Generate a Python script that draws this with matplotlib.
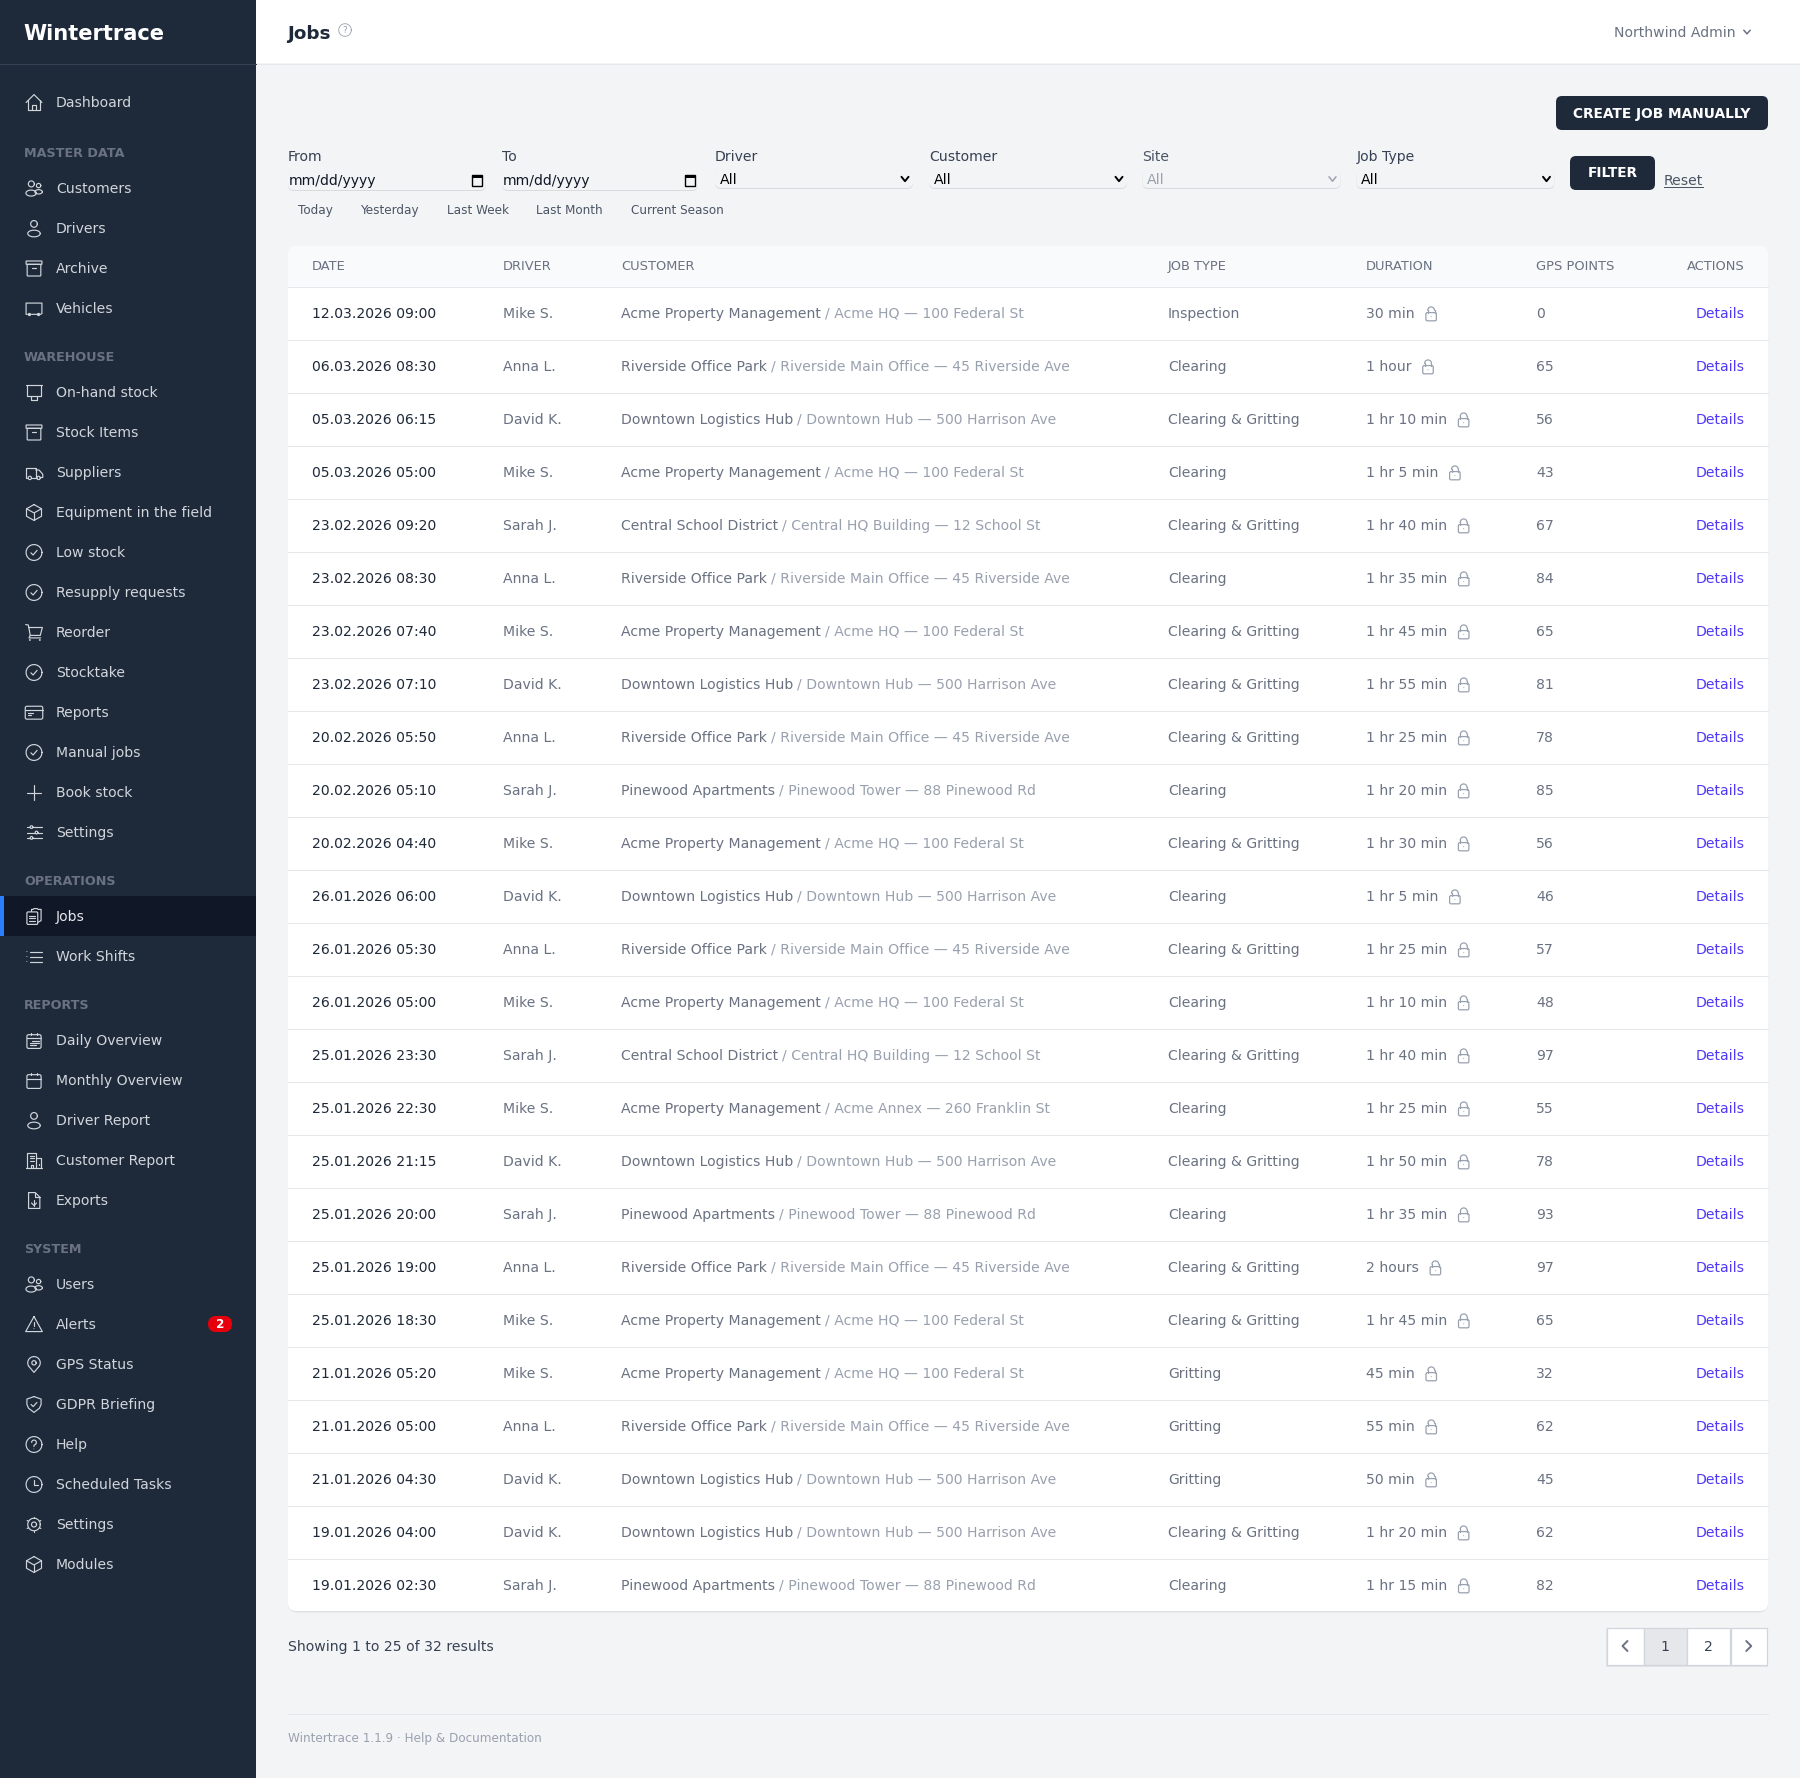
# _*_ coding: UTF-8 _*_

import numpy as np
import matplotlib
matplotlib.use('Agg')
import matplotlib.pyplot as plt
from matplotlib.patches import FancyBboxPatch, Rectangle

# 表格数据
dates = ['12.03.2026 09:00', '06.03.2026 08:30', '05.03.2026 06:15', '05.03.2026 05:00', '23.02.2026 09:20',
         '23.02.2026 08:30', '23.02.2026 07:40', '23.02.2026 07:10', '20.02.2026 05:50', '20.02.2026 05:10',
         '20.02.2026 04:40', '26.01.2026 06:00', '26.01.2026 05:30', '26.01.2026 05:00', '25.01.2026 23:30',
         '25.01.2026 22:30', '25.01.2026 21:15', '25.01.2026 20:00', '25.01.2026 19:00', '25.01.2026 18:30',
         '21.01.2026 05:20', '21.01.2026 05:00', '21.01.2026 04:30', '19.01.2026 04:00', '19.01.2026 02:30']
drivers = ['Mike S.', 'Anna L.', 'David K.', 'Mike S.', 'Sarah J.',
           'Anna L.', 'Mike S.', 'David K.', 'Anna L.', 'Sarah J.',
           'Mike S.', 'David K.', 'Anna L.', 'Mike S.', 'Sarah J.',
           'Mike S.', 'David K.', 'Sarah J.', 'Anna L.', 'Mike S.',
           'Mike S.', 'Anna L.', 'David K.', 'David K.', 'Sarah J.']
acme = 'Acme Property Management'
river = 'Riverside Office Park'
down = 'Downtown Logistics Hub'
school = 'Central School District'
pine = 'Pinewood Apartments'
customers = [acme, river, down, acme, school,
             river, acme, down, river, pine,
             acme, down, river, acme, school,
             acme, down, pine, river, acme,
             acme, river, down, down, pine]
site_hq = 'Acme HQ — 100 Federal St'
site_river = 'Riverside Main Office — 45 Riverside Ave'
site_down = 'Downtown Hub — 500 Harrison Ave'
site_school = 'Central HQ Building — 12 School St'
site_pine = 'Pinewood Tower — 88 Pinewood Rd'
sites = [site_hq, site_river, site_down, site_hq, site_school,
         site_river, site_hq, site_down, site_river, site_pine,
         site_hq, site_down, site_river, site_hq, site_school,
         'Acme Annex — 260 Franklin St', site_down, site_pine, site_river, site_hq,
         site_hq, site_river, site_down, site_down, site_pine]
cg = 'Clearing & Gritting'
job_types = ['Inspection', 'Clearing', cg, 'Clearing', cg,
             'Clearing', cg, cg, cg, 'Clearing',
             cg, 'Clearing', cg, 'Clearing', cg,
             'Clearing', cg, 'Clearing', cg, cg,
             'Gritting', 'Gritting', 'Gritting', cg, 'Clearing']
durations = ['30 min', '1 hour', '1 hr 10 min', '1 hr 5 min', '1 hr 40 min',
             '1 hr 35 min', '1 hr 45 min', '1 hr 55 min', '1 hr 25 min', '1 hr 20 min',
             '1 hr 30 min', '1 hr 5 min', '1 hr 25 min', '1 hr 10 min', '1 hr 40 min',
             '1 hr 25 min', '1 hr 50 min', '1 hr 35 min', '2 hours', '1 hr 45 min',
             '45 min', '55 min', '50 min', '1 hr 20 min', '1 hr 15 min']
gps_points = [0, 65, 56, 43, 67, 84, 65, 81, 78, 85, 56, 46, 57, 48, 97, 55, 78, 93, 97, 65, 32, 62, 45, 62, 82]

column_titles = ['DATE', 'DRIVER', 'CUSTOMER', 'JOB TYPE', 'DURATION', 'GPS POINTS']
column_x = [312, 503, 621, 1168, 1366, 1536]

# 侧边栏 (名称, 图标, y)
nav_items = [('Dashboard', 'home', 102), ('Customers', 'users', 188), ('Drivers', 'user', 228),
             ('Archive', 'archive', 268), ('Vehicles', 'vehicle', 308), ('On-hand stock', 'tray', 392),
             ('Stock Items', 'archive', 432), ('Suppliers', 'truck', 472), ('Equipment in the field', 'cube', 512),
             ('Low stock', 'check', 552), ('Resupply requests', 'check', 592), ('Reorder', 'cart', 632),
             ('Stocktake', 'check', 672), ('Reports', 'card', 712), ('Manual jobs', 'check', 752),
             ('Book stock', 'plus', 792), ('Settings', 'sliders', 832), ('Jobs', 'jobs', 916),
             ('Work Shifts', 'list', 956), ('Daily Overview', 'daily', 1040), ('Monthly Overview', 'calendar', 1080),
             ('Driver Report', 'user', 1120), ('Customer Report', 'building', 1160), ('Exports', 'export', 1200),
             ('Users', 'users', 1284), ('Alerts', 'alert', 1324), ('GPS Status', 'pin', 1364),
             ('GDPR Briefing', 'shield', 1404), ('Help', 'help', 1444), ('Scheduled Tasks', 'clock', 1484),
             ('Settings', 'gear', 1524), ('Modules', 'cube', 1564)]
nav_sections = [('MASTER DATA', 152.5), ('WAREHOUSE', 356.5), ('OPERATIONS', 880.5), ('REPORTS', 1004.5), ('SYSTEM', 1248.5)]

filter_labels = ['From', 'To', 'Driver', 'Customer', 'Site', 'Job Type']
filter_x = [288, 502, 715, 929, 1142, 1357]
quick_links = ['Today', 'Yesterday', 'Last Week', 'Last Month', 'Current Season']
quick_x = [298, 360.5, 447, 536.5, 631]

# 颜色
GRAY900 = '#101828'
GRAY800 = '#1e2939'
GRAY700 = '#364153'
GRAY600 = '#4a5565'
GRAY500 = '#6a7282'
GRAY400 = '#99a1af'
GRAY300 = '#d1d5dc'
GRAY200 = '#e5e7eb'
GRAY100 = '#f3f4f6'
GRAY50 = '#f9fafb'
INDIGO = '#4f39f6'

# 图标, 24格坐标
CIRCLE_CHECK = [('C', 12, 12, 9.5), ('L', [(8.3, 12.4), (10.9, 15), (15.7, 9.4)])]
ICONS = {
    'home': [('L', [(2.5, 12), (12, 2.5), (21.5, 12)]), ('L', [(5, 9.5), (5, 21.5), (19, 21.5), (19, 9.5)]),
             ('L', [(10, 21.5), (10, 15.5), (14, 15.5), (14, 21.5)])],
    'users': [('C', 8.8, 6.5, 3.6), ('C', 17.5, 8.5, 2.6), ('E', 8.5, 17.5, 6.2, 3.6), ('E', 17.5, 16, 4.5, 2.6)],
    'user': [('C', 12, 6.5, 4), ('E', 12, 18, 7.5, 4)],
    'archive': [('R', 2.5, 3, 19, 4, 0.5), ('R', 3.8, 7, 16.4, 14, 1), ('L', [(10, 11.5), (14, 11.5)])],
    'vehicle': [('L', [(4, 19), (2.5, 19), (2.5, 5.5), (21.5, 5.5), (21.5, 18), (20, 19), (9, 19)]),
                ('D', 6.5, 19.2, 2), ('D', 17.5, 19.2, 2)],
    'tray': [('L', [(2.5, 2.5), (21.5, 2.5)]), ('L', [(4, 2.5), (4, 16), (20, 16), (20, 2.5)]),
             ('L', [(8, 16), (8, 21), (16, 21), (16, 16)])],
    'truck': [('L', [(4, 18), (2, 18), (2, 6), (14, 6), (14, 18), (10, 18)]),
              ('L', [(14, 9), (18, 9), (22.5, 14), (22.5, 18), (20, 18)]), ('L', [(14, 18), (15, 18)]),
              ('C', 7, 18.5, 2), ('C', 17.5, 18.5, 2)],
    'cube': [('L', [(12, 2.5), (21, 7.5), (21, 16.5), (12, 21.5), (3, 16.5), (3, 7.5), (12, 2.5)]),
             ('L', [(3, 7.5), (12, 12.5), (21, 7.5)]), ('L', [(12, 12.5), (12, 21.5)])],
    'check': CIRCLE_CHECK,
    'cart': [('L', [(2, 2.5), (5.2, 3), (7.5, 15.5), (19.5, 15.5), (22, 6), (5.7, 6)]),
             ('L', [(7.5, 15.5), (6, 18.5), (20, 18.5)]), ('D', 7, 21, 1.1), ('D', 19, 21, 1.1)],
    'card': [('R', 1.5, 4.5, 21, 15.5, 2), ('L', [(1.5, 8.5), (22.5, 8.5)]), ('L', [(5, 13), (11, 13)]),
             ('L', [(5, 15.5), (8, 15.5)])],
    'plus': [('L', [(12, 3.5), (12, 20.5)]), ('L', [(3.5, 12), (20.5, 12)])],
    'sliders': [('L', [(3, 5.5), (21, 5.5)]), ('L', [(3, 12), (21, 12)]), ('L', [(3, 18.5), (21, 18.5)]),
                ('F', 9, 5.5, 1.6), ('F', 15, 12, 1.6), ('F', 9, 18.5, 1.6)],
    'jobs': [('L', [(9, 6), (9, 3.5), (11, 3.5), (12, 2.5), (16, 2.5), (17, 3.5), (20.5, 3.5), (20.5, 17), (16.5, 19)]),
             ('R', 3.5, 6.5, 13, 15, 1.5), ('L', [(6.5, 11), (13.5, 11)]), ('L', [(6.5, 14), (13.5, 14)]),
             ('L', [(6.5, 17), (13.5, 17)])],
    'list': [('D', 3.5, 6, 0.6), ('D', 3.5, 12, 0.6), ('D', 3.5, 18, 0.6), ('L', [(7.5, 6), (21, 6)]),
             ('L', [(7.5, 12), (21, 12)]), ('L', [(7.5, 18), (21, 18)])],
    'calendar': [('R', 3.5, 5, 17, 16.5, 2), ('L', [(3.5, 10), (20.5, 10)]), ('L', [(8, 2.5), (8, 5)]),
                 ('L', [(16, 2.5), (16, 5)])],
    'daily': [('R', 3.5, 5, 17, 16.5, 2), ('L', [(3.5, 9), (20.5, 9)]), ('L', [(8, 2.5), (8, 5)]),
              ('L', [(16, 2.5), (16, 5)]), ('L', [(10, 12.5), (17.5, 12.5)]), ('L', [(7.5, 15), (17.5, 15)]),
              ('L', [(7.5, 17.5), (14, 17.5)])],
    'building': [('L', [(4, 21.5), (4, 2.5), (14.5, 2.5), (14.5, 21.5)]), ('L', [(14.5, 8.5), (20, 8.5), (20, 21.5)]),
                 ('L', [(2.5, 21.5), (22, 21.5)]), ('L', [(7, 6), (12, 6)]), ('L', [(7, 9.5), (12, 9.5)]),
                 ('L', [(7, 13), (12, 13)]), ('L', [(8, 21.5), (8, 17), (11, 17), (11, 21.5)]),
                 ('L', [(17.5, 12), (17.5, 13)]), ('L', [(17.5, 16), (17.5, 17)])],
    'export': [('L', [(5.5, 2.5), (13.5, 2.5), (19, 8), (19, 21.5), (5.5, 21.5), (5.5, 2.5)]),
               ('L', [(13.5, 2.5), (13.5, 8), (19, 8)]), ('L', [(12, 11), (12, 18)]), ('L', [(9, 15), (12, 18), (15, 15)])],
    'alert': [('L', [(12, 2.5), (22, 20.5), (2, 20.5), (12, 2.5)]), ('L', [(12, 8.5), (12, 14)]), ('D', 12, 17, 0.6)],
    'pin': [('A', 12, 10, 7.5, 7.5, 150, 390), ('L', [(5.5, 13.8), (12, 21.5), (18.5, 13.8)]), ('C', 12, 10, 2.6)],
    'shield': [('L', [(12, 2.5), (20.5, 5.5), (20.5, 12), (18.5, 16.5), (12, 21.5), (5.5, 16.5), (3.5, 12), (3.5, 5.5), (12, 2.5)]),
               ('L', [(8.5, 12), (11, 14.5), (15.5, 9.5)])],
    'help': [('C', 12, 12, 9.5), ('A', 12, 9.5, 2.8, 2.8, 180, 400), ('L', [(14.2, 11.4), (12, 13), (12, 14.5)]), ('D', 12, 17.3, 0.5)],
    'clock': [('C', 12, 12, 9.5), ('L', [(12, 6.5), (12, 12), (16.5, 12)])],
    'gear': [('C', 12, 12, 3), ('C', 12, 12, 7.5), ('L', [(12, 2.5), (12, 4.5)]), ('L', [(12, 19.5), (12, 21.5)]),
             ('L', [(3.8, 7.2), (5.5, 8.2)]), ('L', [(20.2, 7.2), (18.5, 8.2)]), ('L', [(3.8, 16.8), (5.5, 15.8)]),
             ('L', [(20.2, 16.8), (18.5, 15.8)])],
    'lock': [('R', 5, 10.5, 14, 11, 2), ('A', 12, 7.5, 4.5, 4.5, 180, 360), ('L', [(7.5, 7.5), (7.5, 10.5)]),
             ('L', [(16.5, 7.5), (16.5, 10.5)]), ('D', 12, 16, 0.7)],
}

fig = plt.figure(figsize=(18, 17.78), dpi=100)
ax = fig.add_axes([0, 0, 1, 1])
ax.set_xlim(0, 1800)
ax.set_ylim(1778, 0)
ax.axis('off')
renderer = fig.canvas.get_renderer()


def px(size):
    # css像素转pt
    return size * 0.72


def txt(x, y, s, size=14, color=GRAY500, weight='normal', ha='left', z=5):
    # y为文字视觉中心
    return ax.text(x, y + size * 0.36, s, fontsize=px(size), color=color, fontweight=weight,
                   ha=ha, va='baseline', zorder=z, family='DejaVu Sans')


def box(x0, y0, x1, y1, color, rounding=0, ec='none', lw=0, z=2):
    if rounding > 0:
        p = FancyBboxPatch((x0, y0), x1 - x0, y1 - y0, boxstyle='round,pad=0,rounding_size=%s' % rounding,
                           fc=color, ec=ec, lw=lw, zorder=z)
    else:
        p = Rectangle((x0, y0), x1 - x0, y1 - y0, fc=color, ec=ec, lw=lw, zorder=z)
    ax.add_patch(p)
    return p


def stroke(xs, ys, color, lw):
    ax.plot(xs, ys, color=color, lw=lw, solid_capstyle='round', solid_joinstyle='round', zorder=6)


def hline(x0, x1, y, color=GRAY200, z=3):
    ax.plot([x0, x1], [y, y], color=color, lw=0.72, zorder=z)


def icon(name, cx, cy, size=20, color=GRAY300, lw=0.85, bg=GRAY800):
    k = size / 24.0
    mx = lambda v: cx + (np.asarray(v, dtype=float) - 12) * k
    my = lambda v: cy + (np.asarray(v, dtype=float) - 12) * k
    for part in ICONS[name]:
        kind = part[0]
        if kind == 'L':
            stroke(mx([p[0] for p in part[1]]), my([p[1] for p in part[1]]), color, lw)
        elif kind in ('C', 'F', 'D'):
            t = np.linspace(0, 2 * np.pi, 40)
            xs, ys = mx(part[1] + part[3] * np.cos(t)), my(part[2] + part[3] * np.sin(t))
            if kind != 'C':
                ax.fill(xs, ys, fc=color if kind == 'D' else bg, zorder=7)
            if kind != 'D':
                ax.plot(xs, ys, color=color, lw=lw, zorder=7)
        elif kind == 'E':
            t = np.linspace(0, 2 * np.pi, 40)
            stroke(mx(part[1] + part[3] * np.cos(t)), my(part[2] + part[4] * np.sin(t)), color, lw)
        elif kind == 'A':
            t = np.radians(np.linspace(part[5], part[6], 30))
            stroke(mx(part[1] + part[3] * np.cos(t)), my(part[2] + part[4] * np.sin(t)), color, lw)
        elif kind == 'R':
            x, y, w, h, r = part[1:]
            p = FancyBboxPatch((cx + (x - 12) * k, cy + (y - 12) * k), w * k, h * k,
                               boxstyle='round,pad=0,rounding_size=%s' % (r * k), fc='none', ec=color, lw=lw, zorder=6)
            ax.add_patch(p)


def chevron(cx, cy, color='black', lw=1.3, w=3.5, h=2.2):
    stroke([cx - w, cx, cx + w], [cy - h, cy + h, cy - h], color, lw)


def pager_arrow(cx, cy, direction):
    stroke([cx - direction * 2.5, cx + direction * 2.5, cx - direction * 2.5], [cy - 5, cy, cy + 5], GRAY500, 1.4)


# 背景
box(0, 0, 1800, 1778, GRAY100, z=0)
box(256, 0, 1800, 63, 'white', z=1)
hline(256, 1800, 63.5, z=2)
box(0, 0, 256, 1778, GRAY800, z=1)
hline(0, 256, 63.5, color=GRAY700, z=2)

# 侧边栏
txt(23.5, 32, 'Wintertrace', size=21, color='white', weight='bold')
box(0, 896, 256, 936, GRAY900, z=2)
box(0, 896, 4, 936, '#2b7fff', z=3)
for name, glyph, y in nav_items:
    active = name == 'Jobs'
    txt(56, y, name, color=GRAY300 if not active else GRAY200)
    icon(glyph, 34, y + 0.5, bg=GRAY800)
for name, y in nav_sections:
    txt(24, y, name, size=12.8, color=GRAY500, weight='bold')
box(208, 1316, 232, 1332, '#e7000b', rounding=8, z=4)
txt(220, 1324, '2', size=12, color='white', weight='bold', ha='center')

# 顶栏
txt(287.5, 32, 'Jobs', size=18.4, color=GRAY800, weight='bold')
t = np.linspace(0, 2 * np.pi, 60)
ax.plot(345 + 6.3 * np.cos(t), 30 + 6.3 * np.sin(t), color=GRAY400, lw=0.6, zorder=5)
txt(345, 30, '?', size=9, color=GRAY400, ha='center')
txt(1614, 32, 'Northwind Admin', color=GRAY500)
chevron(1747, 32, color=GRAY500, lw=1.1, w=3.2, h=1.8)

# 筛选区
box(1556, 96, 1768, 130, GRAY800, rounding=6)
txt(1662, 113, 'CREATE JOB MANUALLY', size=13.8, color='white', weight='bold', ha='center')
for label, x in zip(filter_labels, filter_x):
    txt(x, 156, label, color=GRAY700 if label != 'Site' else GRAY600)
for x0, x1, cal_x in [(288, 486, 477), (502, 698, 689.5)]:
    box(x0, 170.5, x1, 191, '#d8dade', rounding=6, z=2)
    box(x0, 170, x1, 190, GRAY100, rounding=6, z=3)
    txt(x0 + 1, 180, 'mm/dd/yyyy', color=GRAY900)
    box(cal_x - 5, 175, cal_x + 5, 185.5, 'none', ec='black', lw=1.0, z=6)
    box(cal_x - 5, 175, cal_x + 5, 178, 'black', z=6)
for x0, is_off in [(715, False), (929, False), (1142.5, True), (1356.5, False)]:
    box(x0, 170.5, x0 + 198, 189, '#d8dade', rounding=6, z=2)
    box(x0, 170, x0 + 198, 188, GRAY100, rounding=6, z=3)
    txt(x0 + 4.5, 179, 'All', color=GRAY400 if is_off else 'black')
    chevron(x0 + 190, 179, color=GRAY400 if is_off else 'black', lw=1.4 if not is_off else 1.1)
box(1570, 156, 1655, 190, GRAY800, rounding=6)
txt(1612.5, 172.5, 'FILTER', size=13.6, color='white', weight='bold', ha='center')
txt(1664, 180, 'Reset', color=GRAY600)
hline(1664, 1702.5, 187, color=GRAY600, z=5)
for label, x in zip(quick_links, quick_x):
    txt(x, 209.5, label, size=12, color=GRAY600)

# 表格
box(288, 247, 1768, 1612.5, '#dfe1e5', rounding=9, z=1)
card = box(288, 246, 1768, 1611, 'white', rounding=8, z=2)
head = box(288, 246, 1768, 286.5, GRAY50, z=2.5)
head.set_clip_path(card)
hline(288, 1768, 286.5)
for title, x in zip(column_titles, column_x):
    txt(x, 265.7, title, size=13, color=GRAY500)
txt(1744.5, 265.7, 'ACTIONS', size=13, color=GRAY500, ha='right')

row_h = 53.0
for i in range(len(dates)):
    y = 313 + i * row_h
    if i > 0:
        hline(288, 1768, y - 26.5)
    txt(column_x[0], y, dates[i], color=GRAY800)
    txt(column_x[1], y, drivers[i])
    t1 = txt(column_x[2], y, customers[i])
    w1 = t1.get_window_extent(renderer).width
    txt(column_x[2] + w1 + 4.2, y - 0.3, '/ ' + sites[i], color=GRAY400)
    txt(column_x[3], y, job_types[i])
    t2 = txt(column_x[4], y, durations[i])
    w2 = t2.get_window_extent(renderer).width
    icon('lock', column_x[4] + w2 + 16.5, y + 0.7, size=18, color=GRAY400, lw=0.9, bg='white')
    txt(column_x[5], y, str(gps_points[i]))
    txt(1744.7, y, 'Details', color=INDIGO, ha='right')

# 分页
txt(288, 1646, 'Showing 1 to 25 of 32 results', color=GRAY700)
pages = [('prev', 1606.5, 1643.5), ('1', 1644, 1686.5), ('2', 1687, 1730), ('next', 1730.5, 1767)]
box(1606, 1628.5, 1767.5, 1666.5, '#e2e4e8', z=1)
for label, x0, x1 in pages:
    fc = GRAY200 if label == '1' else 'white'
    box(x0, 1627.5, x1, 1664.5, fc, ec=GRAY300, lw=0.9, z=2)
    cx = (x0 + x1) / 2
    if label == 'prev':
        pager_arrow(cx, 1646, -1)
    elif label == 'next':
        pager_arrow(cx, 1646, 1)
    else:
        txt(cx, 1646, label, color=GRAY700, ha='center')

# 页脚
hline(288, 1768, 1713.5, z=2)
txt(288, 1737.7, 'Wintertrace 1.1.9 · Help & Documentation', size=12, color=GRAY400)

fig.savefig('out.png', dpi=100)
plt.close(fig)
